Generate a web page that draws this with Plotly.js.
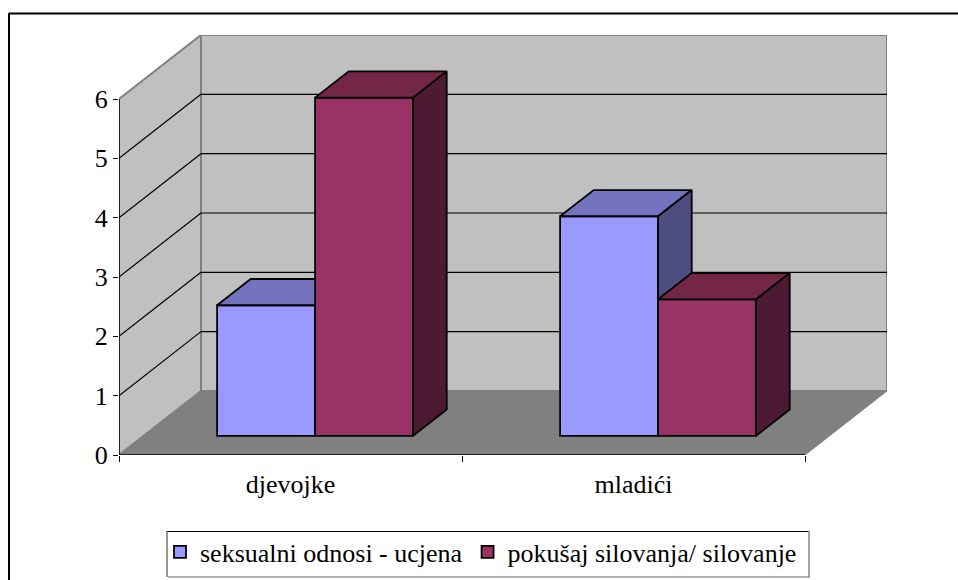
<!DOCTYPE html>
<html>
<head>
<meta charset="utf-8">
<script src="https://cdn.plot.ly/plotly-3.0.1.min.js"></script>
<style>html,body{margin:0;padding:0;background:#fff}</style>
</head>
<body>
<div id="chart" style="width:958px;height:580px"></div>
<script>
var categories = ['djevojke', 'mladići'];
var seriesNames = ['seksualni odnosi - ucjena', 'pokušaj silovanja/ silovanje'];
var seriesA = [2.2, 3.7];
var seriesB = [5.7, 2.3];
var yTicks = [0, 1, 2, 3, 4, 5, 6];

var FONT = 'Liberation Serif, serif';
var DX = 0.239, DY = 1.079;        // oblique depth of the box, in axis units
var D0 = 0.3, D1 = 0.71;           // front and back of the bars as depth fractions
var BW = 0.2857;                   // bar width in category units
var colA = {front:'#9999FF', top:'#7373BF', side:'#4D4D80'};
var colB = {front:'#993366', top:'#732646', side:'#4D1A33'};

function px(x, d) { return x + d * DX; }
function py(v, d) { return v + d * DY; }
function path(pts) {
  return 'M' + pts.map(function (p) { return p[0] + ',' + p[1]; }).join('L') + 'Z';
}
function poly(pts, fill) {
  return {
    type: 'scatter', mode: 'lines', fill: 'toself', fillcolor: fill,
    x: pts.map(function (p) { return p[0]; }).concat(pts[0][0]),
    y: pts.map(function (p) { return p[1]; }).concat(pts[0][1]),
    line: {color: '#000', width: 1.8}, showlegend: false, hoverinfo: 'skip'
  };
}
function shapeFace(pts, fill) {
  return {type: 'path', layer: 'below', xref: 'x', yref: 'y', path: path(pts), fillcolor: fill,
          line: {color: '#808080', width: 2}};
}
function seg(x0, y0, x1, y1, color, w, layer) {
  return {type: 'line', layer: layer || 'below', xref: 'x', yref: 'y', x0: x0, y0: y0, x1: x1, y1: y1,
          line: {color: color, width: w}};
}

var nCat = categories.length;
var shapes = [
  shapeFace([[0, 0], [px(0, 1), py(0, 1)], [px(0, 1), py(6, 1)], [0, 6]], '#C0C0C0'),
  shapeFace([[px(0, 1), py(0, 1)], [px(nCat, 1), py(0, 1)], [px(nCat, 1), py(6, 1)], [px(0, 1), py(6, 1)]], '#C0C0C0'),
  {type: 'path', layer: 'below', xref: 'x', yref: 'y', fillcolor: '#808080', line: {color: '#808080', width: 1},
   path: path([[0, 0], [nCat, 0], [px(nCat, 1), py(0, 1)], [px(0, 1), py(0, 1)]])}
];
yTicks.slice(1, -1).forEach(function (t) {
  shapes.push(seg(0, t, px(0, 1), py(t, 1), '#000', 1.2));
  shapes.push(seg(px(0, 1), py(t, 1), px(nCat, 1), py(t, 1), '#000', 1.2));
});
shapes.push(seg(0, 0, 0, 6, '#000', 1.5));
shapes.push(seg(0, 0, nCat, 0, '#000', 1.5));
// outer chart frame, only the top and left edges fall inside the picture
var W = 768, H = 420;
function fx(p) { return (p - 119) / W; }
function fy(p) { return (455 - p) / H; }
function frameLine(x0, y0, x1, y1, color, w) {
  return {type: 'line', xref: 'paper', yref: 'paper', x0: fx(x0), x1: fx(x1), y0: fy(y0), y1: fy(y1),
          line: {color: color, width: w}};
}
shapes.push(frameLine(9, 13.5, 958, 13.5, '#000', 2));
shapes.push(frameLine(9, 13, 9, 580, '#000', 2));
// legend frame
shapes.push(frameLine(167, 531.5, 808.5, 531.5, '#000', 1));
shapes.push(frameLine(167, 531, 167, 577, '#333', 1));
shapes.push(frameLine(168, 577, 809, 577, '#666', 1.2));
shapes.push(frameLine(809, 531, 809, 577.5, '#666', 1.2));

var xMid = categories.map(function (c, i) { return i + 0.5 + D0 * DX; });
var base = D0 * DY;
function barTrace(name, vals, col, off) {
  return {
    type: 'bar', name: name,
    x: xMid.map(function (m) { return m + off * BW; }),
    y: vals, base: categories.map(function () { return base; }), width: BW,
    marker: {color: col.front, line: {color: '#000', width: 1.8}},
    hoverinfo: 'skip'
  };
}
var traces = [barTrace(seriesNames[0], seriesA, colA, -0.5), barTrace(seriesNames[1], seriesB, colB, 0.5)];

categories.forEach(function (c, i) {
  var a = seriesA[i], b = seriesB[i];
  var xl = xMid[i] - BW, xm = xMid[i], xr = xMid[i] + BW;
  var dd = (D1 - D0), sx = dd * DX, sy = dd * DY;
  var ya = a + base, yb = b + base;
  // left bar: top face, cut where the taller right bar hides it
  if (b >= a) {
    traces.push(poly([[xl, ya], [xl + sx, ya + sy], [xm, ya + sy], [xm, ya]], colA.top));
  } else {
    traces.push(poly([[xl, ya], [xl + sx, ya + sy], [xm + sx, ya + sy], [xm, ya]], colA.top));
    traces.push(poly([[xm, ya], [xm + sx, ya + sy], [xm + sx, yb + sy], [xm, yb]], colA.side));
  }
  // right bar: top and side faces
  traces.push(poly([[xm, yb], [xm + sx, yb + sy], [xr + sx, yb + sy], [xr, yb]], colB.top));
  traces.push(poly([[xr, yb], [xr + sx, yb + sy], [xr + sx, base + sy], [xr, base]], colB.side));
});

var layout = {
  width: 958, height: 580,
  margin: {l: 119, r: 71, t: 35, b: 125, pad: 0, autoexpand: false},
  paper_bgcolor: '#fff', plot_bgcolor: 'rgba(0,0,0,0)',
  barmode: 'overlay',
  font: {family: FONT, color: '#000', size: 26},
  showlegend: true,
  legend: {
    orientation: 'h', x: fx(160), xanchor: 'left', y: fy(528.5), yanchor: 'top',
    bgcolor: 'rgba(0,0,0,0)', borderwidth: 0,
    font: {family: FONT, size: 26, color: '#000'}, itemclick: false, itemdoubleclick: false, traceorder: 'normal'
  },
  xaxis: {
    range: [0, W / 343], showgrid: false, zeroline: false, showline: false,
    tickmode: 'array', tickvals: [0.5, 1.5], ticktext: categories, ticks: '', ticklabelstandoff: 11,
    tickfont: {family: FONT, size: 26, color: '#000'},
    minor: {tickmode: 'array', tickvals: [0, 1, 2], ticks: 'outside', ticklen: 6, tickwidth: 1, tickcolor: '#000', showgrid: false},
    fixedrange: true
  },
  yaxis: {
    range: [0, H / 59.33], showgrid: false, zeroline: false, showline: false,
    tickmode: 'array', tickvals: yTicks, ticks: 'outside', ticklen: 5, tickwidth: 1, tickcolor: '#000',
    tickfont: {family: FONT, size: 26, color: '#000'},
    fixedrange: true
  },
  shapes: shapes
};
Plotly.newPlot('chart', traces, layout, {displayModeBar: false});
</script>
</body>
</html>
